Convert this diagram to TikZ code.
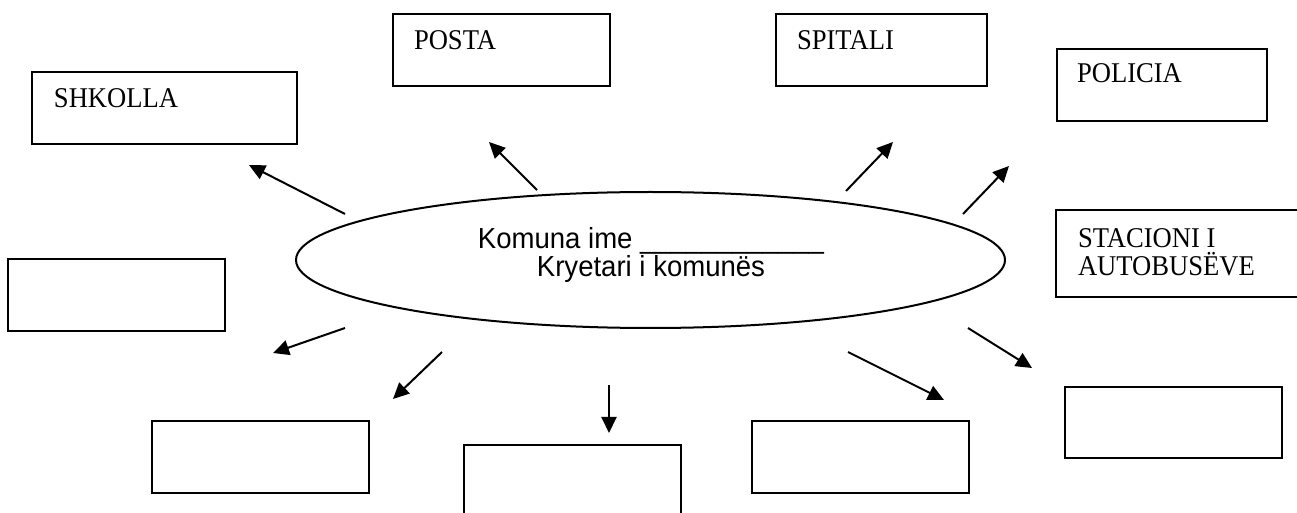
\documentclass[tikz,border=0pt]{standalone}
\usepackage{fontspec}
\setmainfont{Liberation Serif}[FakeStretch=0.93]
\newfontfamily\ovalfont{Liberation Sans}[FakeStretch=0.95]
\usetikzlibrary{arrows.meta, shapes.geometric, positioning}

\begin{document}
\begin{tikzpicture}[
  x = 0.5pt, y = -0.5pt,                          % one unit = one pixel, y downwards
  > = {Triangle[length=8pt, width=7.5pt]},        % filled arrow head
  line width = 1pt
  ]

  \tikzstyle{box}=[     % empty frame
  draw, rectangle,
  minimum width = 108.5pt, minimum height = 36pt,
  inner sep = 0pt, outer sep = 0pt
  ]

  \tikzstyle{lbl}=[     % text in a frame
  anchor = base west, inner sep = 0pt,
  font = \fontsize{14.3}{14}\selectfont
  ]

  \tikzstyle{oval}=[    % the ellipse in the middle
  draw, ellipse,
  minimum width = 354.5pt, minimum height = 68pt,
  inner sep = 0pt
  ]

  \useasboundingbox (0,0) rectangle (1297,513);
  \clip (0,0) rectangle (1297,513);

  % Middle
  \node[oval] (kom) at (650.5,260) {};
  \node[align = center, inner sep = 0pt,
        font = \ovalfont\fontsize{14.5}{14}\selectfont] (komtxt) at (651,255)
        {Komuna ime \_\_\_\_\_\_\_\_\_\_\_\_\\Kryetari i komunës};

  % Frames
  \node[box, minimum width = 132.5pt] (shk) at (164.5,108.5) {};
  \node[box] (pos) at (501,50) {};
  \node[box, minimum width = 105.5pt] (spi) at (881.5,50) {};
  \node[box, minimum width = 105pt] (pol) at (1162,85) {};
  \node[box, minimum width = 132pt, minimum height = 43.5pt] (sta) at (1188,253.5) {};
  \node[box] (b1) at (116.5,295) {};
  \node[box] (b2) at (260.5,457) {};
  \node[box] (b3) at (572.5,481) {};
  \node[box] (b4) at (860.5,457) {};
  \node[box, minimum height = 35.5pt] (b5) at (1173,422.5) {};

  % Frame texts
  \node[lbl] (tshk) at (53,108) {SHKOLLA};
  \node[lbl] (tpos) at (413,50) {POSTA};
  \node[lbl] (tspi) at (796,50) {SPITALI};
  \node[lbl] (tpol) at (1076,83) {POLICIA};
  \node[lbl, anchor = north west, align = left] (tsta) at (1077,228)
        {STACIONI I\\AUTOBUSËVE};

  % Arrow ends
  \coordinate (f1) at (345,214);  \coordinate (t1) at (249,165);
  \coordinate (f2) at (537,190);  \coordinate (t2) at (489,142);
  \coordinate (f3) at (846,191);  \coordinate (t3) at (893,142);
  \coordinate (f4) at (963,214);  \coordinate (t4) at (1009,166);
  \coordinate (f5) at (968,328);  \coordinate (t5) at (1032,368);
  \coordinate (f6) at (848,352);  \coordinate (t6) at (944,400);
  \coordinate (f7) at (609,385);  \coordinate (t7) at (609,433);
  \coordinate (f8) at (442,352);  \coordinate (t8) at (393,399);
  \coordinate (f9) at (345,328);  \coordinate (t9) at (273,353);

  \path[->] (f1) edge (t1);
  \path[->] (f2) edge (t2);
  \path[->] (f3) edge (t3);
  \path[->] (f4) edge (t4);
  \path[->] (f5) edge (t5);
  \path[->] (f6) edge (t6);
  \path[->] (f7) edge (t7);
  \path[->] (f8) edge (t8);
  \path[->] (f9) edge (t9);
\end{tikzpicture}
\end{document}
